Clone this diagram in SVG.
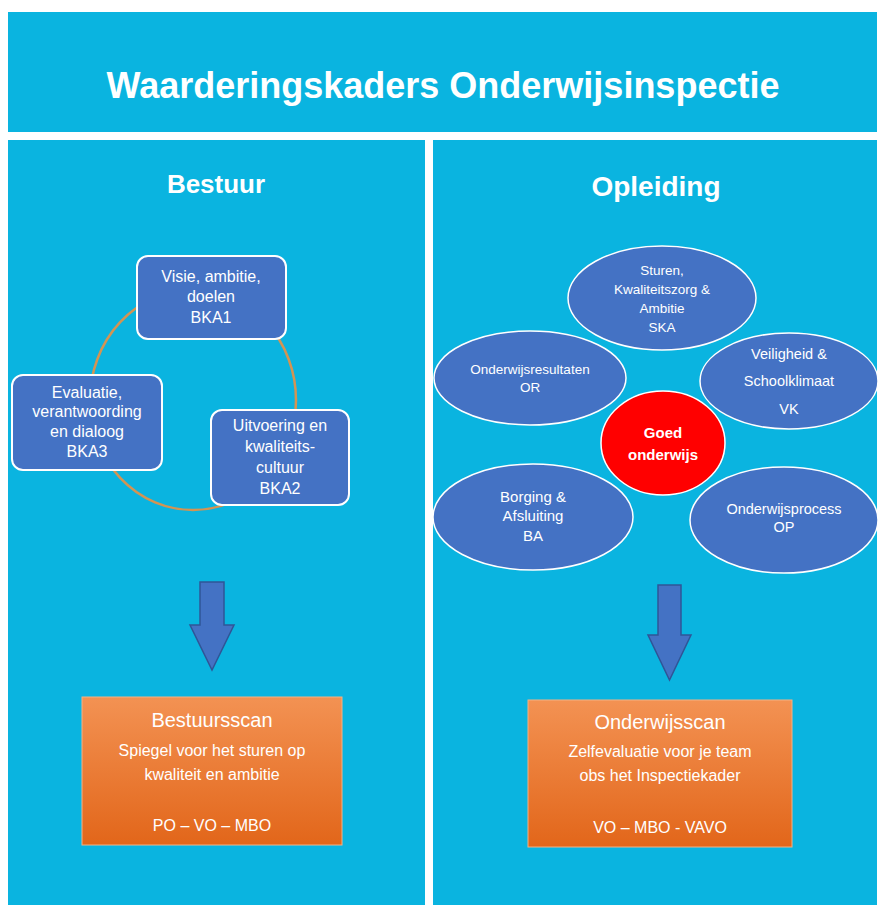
<svg xmlns="http://www.w3.org/2000/svg" width="883" height="909" viewBox="0 0 883 909">
<defs>
<linearGradient id="og" x1="0" y1="0" x2="0" y2="1"><stop offset="0" stop-color="#F39253"/><stop offset="1" stop-color="#E2661A"/></linearGradient>
<style>
.pan{fill:#0AB4E0}
.t{font-family:"Liberation Sans",Calibri,sans-serif;fill:#fff;text-anchor:middle}
.box{fill:#4472C4;stroke:#fff;stroke-width:2}
.ell{fill:#4472C4;stroke:#fff;stroke-width:1.5}
.arr{fill:#4472C4;stroke:#2F5597;stroke-width:1.5}
.ob{fill:url(#og);stroke:#F4B183;stroke-width:1}
</style>
</defs>
<rect width="883" height="909" fill="#fff"/>
<rect class="pan" x="8" y="12" width="869" height="120"/>
<rect class="pan" x="8" y="140" width="417" height="765"/>
<rect class="pan" x="433" y="140" width="444" height="765"/>
<text class="t" x="443" y="98" font-size="36" font-weight="bold">Waarderingskaders Onderwijsinspectie</text>
<text class="t" x="216" y="193" font-size="26" font-weight="bold">Bestuur</text>
<text class="t" x="656" y="196" font-size="28" font-weight="bold">Opleiding</text>
<g id="connectors">
<ellipse cx="193" cy="400" rx="103" ry="110" fill="none" stroke="#D39453" stroke-width="2.5"/>
<path class="arr" d="M200 582H224V625H234L212 670L190 625H200Z"/>
<path class="arr" d="M658 585H681V635H691L669.5 680L648 635H658Z"/>
</g>
<g id="bka1"><rect class="box" x="137" y="256" width="149" height="83" rx="11"/>
<text class="t" font-size="16"><tspan x="211" y="282">Visie, ambitie,</tspan><tspan x="211" y="302">doelen</tspan><tspan x="211" y="323">BKA1</tspan></text></g>
<g id="bka3"><rect class="box" x="12" y="375" width="150" height="95" rx="11"/>
<text class="t" font-size="16"><tspan x="87" y="398">Evaluatie,</tspan><tspan x="87" y="417">verantwoording</tspan><tspan x="87" y="437">en dialoog</tspan><tspan x="87" y="457">BKA3</tspan></text></g>
<g id="bka2"><rect class="box" x="211" y="410" width="138" height="95" rx="11"/>
<text class="t" font-size="16"><tspan x="280" y="431">Uitvoering en</tspan><tspan x="280" y="452">kwaliteits-</tspan><tspan x="280" y="473">cultuur</tspan><tspan x="280" y="494">BKA2</tspan></text></g>
<g id="ska"><ellipse class="ell" cx="662" cy="298" rx="94" ry="52"/>
<text class="t" font-size="13.5"><tspan x="662" y="275">Sturen,</tspan><tspan x="662" y="294">Kwaliteitszorg &amp;</tspan><tspan x="662" y="313">Ambitie</tspan><tspan x="662" y="332">SKA</tspan></text></g>
<g id="or"><ellipse class="ell" cx="530" cy="378" rx="96" ry="47"/>
<text class="t" font-size="13.5"><tspan x="530" y="374">Onderwijsresultaten</tspan><tspan x="530" y="392">OR</tspan></text></g>
<g id="vk"><ellipse class="ell" cx="789" cy="381" rx="89" ry="48"/>
<text class="t" font-size="14.5"><tspan x="789" y="359">Veiligheid &amp;</tspan><tspan x="789" y="386">Schoolklimaat</tspan><tspan x="789" y="414">VK</tspan></text></g>
<g id="goed"><ellipse cx="663" cy="443" rx="62" ry="52" fill="#FF0000" stroke="#fff" stroke-width="1.5"/>
<text class="t" font-size="15" font-weight="bold"><tspan x="663" y="438">Goed</tspan><tspan x="663" y="460">onderwijs</tspan></text></g>
<g id="ba"><ellipse class="ell" cx="533" cy="517" rx="100" ry="53"/>
<text class="t" font-size="15"><tspan x="533" y="502">Borging &amp;</tspan><tspan x="533" y="521">Afsluiting</tspan><tspan x="533" y="541">BA</tspan></text></g>
<g id="op"><ellipse class="ell" cx="784" cy="520" rx="94" ry="53"/>
<text class="t" font-size="14.5"><tspan x="784" y="514">Onderwijsprocess</tspan><tspan x="784" y="532">OP</tspan></text></g>
<g id="bestuursscan"><rect class="ob" x="82" y="697" width="260" height="148"/>
<text class="t" font-size="20"><tspan x="212" y="727">Bestuursscan</tspan></text>
<text class="t" font-size="16"><tspan x="212" y="756">Spiegel voor het sturen op</tspan><tspan x="212" y="780">kwaliteit en ambitie</tspan><tspan x="212" y="831">PO – VO – MBO</tspan></text></g>
<g id="onderwijsscan"><rect class="ob" x="528" y="700" width="264" height="147"/>
<text class="t" font-size="20"><tspan x="660" y="729">Onderwijsscan</tspan></text>
<text class="t" font-size="16"><tspan x="660" y="757">Zelfevaluatie voor je team</tspan><tspan x="660" y="781">obs het Inspectiekader</tspan><tspan x="660" y="833">VO – MBO - VAVO</tspan></text></g>
</svg>
